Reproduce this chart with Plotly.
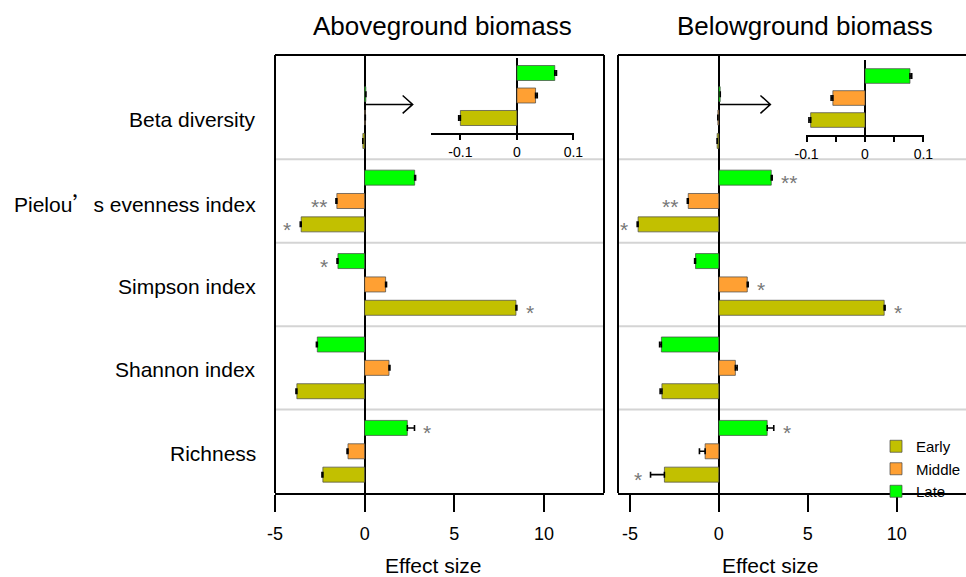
import plotly.graph_objects as go

# ---------------- data ----------------
categories = ["Richness", "Shannon index", "Simpson index",
              "Pielou<span style='font-family:Noto Sans CJK SC'>’</span>s evenness index",
              "Beta diversity"]
stages = ["Early", "Middle", "Late"]
colors = ["#C2C000", "#FFA033", "#00FF00"]

above_early = [-2.33, -3.78, 8.44, -3.54, -0.100]
above_middle = [-0.93, 1.36, 1.17, -1.55, 0.033]
above_late = [2.38, -2.64, -1.49, 2.79, 0.067]
above_err_early = [0.05, 0.05, 0.05, 0.05, 0.003]
above_err_middle = [0.05, 0.05, 0.05, 0.05, 0.003]
above_err_late = [0.40, 0.05, 0.05, 0.05, 0.003]
above_sig_early = ["", "", "*", "*", ""]
above_sig_middle = ["", "", "", "**", ""]
above_sig_late = ["*", "", "*", "", ""]

below_early = [-3.06, -3.20, 9.30, -4.54, -0.093]
below_middle = [-0.77, 0.93, 1.60, -1.72, -0.055]
below_late = [2.72, -3.23, -1.31, 2.95, 0.077]
below_err_early = [0.78, 0.10, 0.05, 0.05, 0.003]
below_err_middle = [0.32, 0.10, 0.05, 0.05, 0.003]
below_err_late = [0.37, 0.10, 0.05, 0.05, 0.003]
below_sig_early = ["*", "", "*", "*", ""]
below_sig_middle = ["", "", "*", "**", ""]
below_sig_late = ["*", "", "", "**", ""]

x_ticks = [-5, 0, 5, 10]
x_ticktext = ["-5", "0", "5", "10"]
inset_ticks_left = [-0.1, 0, 0.1]
inset_ticktext_left = ["-0.1", "0", "0.1"]
inset_ticks_right = [-0.1, -0.05, 0, 0.05, 0.1]
inset_ticktext_right = ["-0.1", "", "0", "", "0.1"]

# ---------------- layout helpers ----------------
W, H = 966, 577
FONT = "Liberation Sans, Arial, sans-serif"
OFFSET = 0.28
BARW = 0.18
BETA = 4

panels = [
    dict(x="x", vals=[above_early, above_middle, above_late],
         errs=[above_err_early, above_err_middle, above_err_late],
         sigs=[above_sig_early, above_sig_middle, above_sig_late]),
    dict(x="x2", vals=[below_early, below_middle, below_late],
         errs=[below_err_early, below_err_middle, below_err_late],
         sigs=[below_sig_early, below_sig_middle, below_sig_late]),
]

fig = go.Figure()
annotations = []
shapes = []

for p_i, p in enumerate(panels):
    for k in range(3):
        vals = p["vals"][k]
        errs = p["errs"][k]
        plus = [e if v >= 0 else 0 for v, e in zip(vals, errs)]
        minus = [e if v < 0 else 0 for v, e in zip(vals, errs)]
        ypos = [i + (k - 1) * OFFSET for i in range(len(vals))]
        fig.add_trace(go.Bar(
            x=vals, y=ypos, orientation="h", width=BARW,
            xaxis=p["x"], yaxis="y",
            marker=dict(color=colors[k], line=dict(color="rgba(70,70,70,0.7)", width=1)),
            error_x=dict(type="data", symmetric=False, array=plus, arrayminus=minus,
                         color="black", thickness=1.6, width=3),
            name=stages[k], legendgroup=stages[k], showlegend=(p_i == 0),
        ))
        for i, (v, e, s) in enumerate(zip(vals, errs, p["sigs"][k])):
            if s:
                annotations.append(dict(
                    x=v + (e if v >= 0 else -e), y=ypos[i], xref=p["x"], yref="y",
                    text=s, showarrow=False,
                    xanchor="left" if v >= 0 else "right", yanchor="middle",
                    xshift=7 if v >= 0 else -7, yshift=-5,
                    font=dict(family=FONT, size=21, color="#777777")))

# insets
insets = [
    dict(x="x3", y="y3", vals=[above_early[BETA], above_middle[BETA], above_late[BETA]],
         errs=[above_err_early[BETA], above_err_middle[BETA], above_err_late[BETA]]),
    dict(x="x4", y="y4", vals=[below_early[BETA], below_middle[BETA], below_late[BETA]],
         errs=[below_err_early[BETA], below_err_middle[BETA], below_err_late[BETA]]),
]
for ins in insets:
    for k in range(3):
        v = ins["vals"][k]
        e = ins["errs"][k]
        fig.add_trace(go.Bar(
            x=[v], y=[k], orientation="h", width=0.667,
            xaxis=ins["x"], yaxis=ins["y"],
            marker=dict(color=colors[k], line=dict(color="rgba(70,70,70,0.7)", width=1)),
            error_x=dict(type="data", symmetric=False,
                         array=[e if v >= 0 else 0], arrayminus=[e if v < 0 else 0],
                         color="black", thickness=1.6, width=3),
            showlegend=False, name=stages[k],
        ))

# group separators & borders
for xr in ["x", "x2"]:
    for i in range(len(categories) - 1):
        shapes.append(dict(type="line", xref=f"{xr} domain", yref="y",
                           x0=0, x1=1, y0=i + 0.5, y1=i + 0.5,
                           line=dict(color="#D4D4D4", width=2), layer="below"))
    shapes.append(dict(type="line", xref=f"{xr} domain", yref="y domain",
                       x0=0, x1=0, y0=0, y1=1, line=dict(color="black", width=2)))
    shapes.append(dict(type="line", xref=f"{xr} domain", yref="y domain",
                       x0=0, x1=1, y0=1, y1=1, line=dict(color="black", width=2)))
shapes.append(dict(type="line", xref="x domain", yref="y domain",
                   x0=1, x1=1, y0=0, y1=1, line=dict(color="black", width=2)))

# arrows to insets
for xr, L in [("x", 2.68), ("x2", 2.9)]:
    ya = 4.158
    shapes.append(dict(type="path", xref=xr, yref="y",
                       path=f"M 0 {ya} L {L} {ya} M {L-0.56} {ya+0.107} L {L} {ya} L {L-0.56} {ya-0.107}",
                       line=dict(color="black", width=1.5)))

# category labels
for i, c in enumerate(categories):
    annotations.append(dict(x=258 / W, y=i, xref="paper", yref="y", text=c,
                            showarrow=False, xanchor="right", yanchor="middle", yshift=-2,
                            font=dict(family=FONT, size=21, color="black")))

# titles and axis titles
PH_TOP, PH_BOT = 55, 493
def py(pix):
    return (PH_BOT - pix) / (PH_BOT - PH_TOP)

for txt, xp in [("Aboveground biomass", 442), ("Belowground biomass", 805)]:
    annotations.append(dict(x=xp / W, y=py(26), xref="paper", yref="paper", text=txt,
                            showarrow=False, xanchor="center", yanchor="middle",
                            font=dict(family=FONT, size=26, color="black")))
for xp in [433, 770]:
    annotations.append(dict(x=xp / W, y=py(565), xref="paper", yref="paper", text="Effect size",
                            showarrow=False, xanchor="center", yanchor="middle",
                            font=dict(family=FONT, size=21, color="black")))

main_x = dict(showgrid=False, zeroline=True, zerolinecolor="black", zerolinewidth=2,
              showline=True, linecolor="black", linewidth=2,
              ticks="outside", ticklen=17, tickwidth=2, tickcolor="black",
              tickvals=x_ticks, ticktext=x_ticktext, ticklabelstandoff=6,
              tickfont=dict(family=FONT, size=18, color="black"), anchor="y")
inset_x = dict(showgrid=False, zeroline=True, zerolinecolor="black", zerolinewidth=2,
               showline=True, linecolor="black", linewidth=2,
               ticks="outside", ticklen=5, tickwidth=2, tickcolor="black",
               tickfont=dict(family=FONT, size=14, color="black"))

fig.update_layout(
    width=W, height=H,
    margin=dict(l=0, r=0, t=PH_TOP, b=H - PH_BOT, autoexpand=False),
    paper_bgcolor="white", plot_bgcolor="white",
    barmode="overlay",
    showlegend=True,
    legend=dict(x=1.0, y=py(430), xanchor="right", yanchor="top",
                font=dict(family=FONT, size=15, color="black"),
                bgcolor="rgba(0,0,0,0)", tracegroupgap=0, itemwidth=30),
    xaxis=dict(main_x, domain=[275 / W, 604 / W], range=[-5, 13.35]),
    xaxis2=dict(main_x, domain=[618 / W, 1.0], range=[-5.67, 13.9]),
    yaxis=dict(domain=[0, 1], range=[-0.5, 4.75], showgrid=False, zeroline=False,
               showticklabels=False, anchor="x"),
    xaxis3=dict(inset_x, domain=[431 / W, 574 / W], range=[-0.152, 0.101],
                tickvals=inset_ticks_left, ticktext=inset_ticktext_left, anchor="y3"),
    yaxis3=dict(domain=[py(133), py(58)], range=[-0.667, 2.667], visible=False, anchor="x3"),
    xaxis4=dict(inset_x, domain=[806 / W, 924 / W], range=[-0.101, 0.101],
                tickvals=inset_ticks_right, ticktext=inset_ticktext_right, anchor="y4"),
    yaxis4=dict(domain=[py(135), py(60)], range=[-0.68, 2.727], visible=False, anchor="x4"),
    annotations=annotations,
    shapes=shapes,
)

fig.write_html("out.html")
